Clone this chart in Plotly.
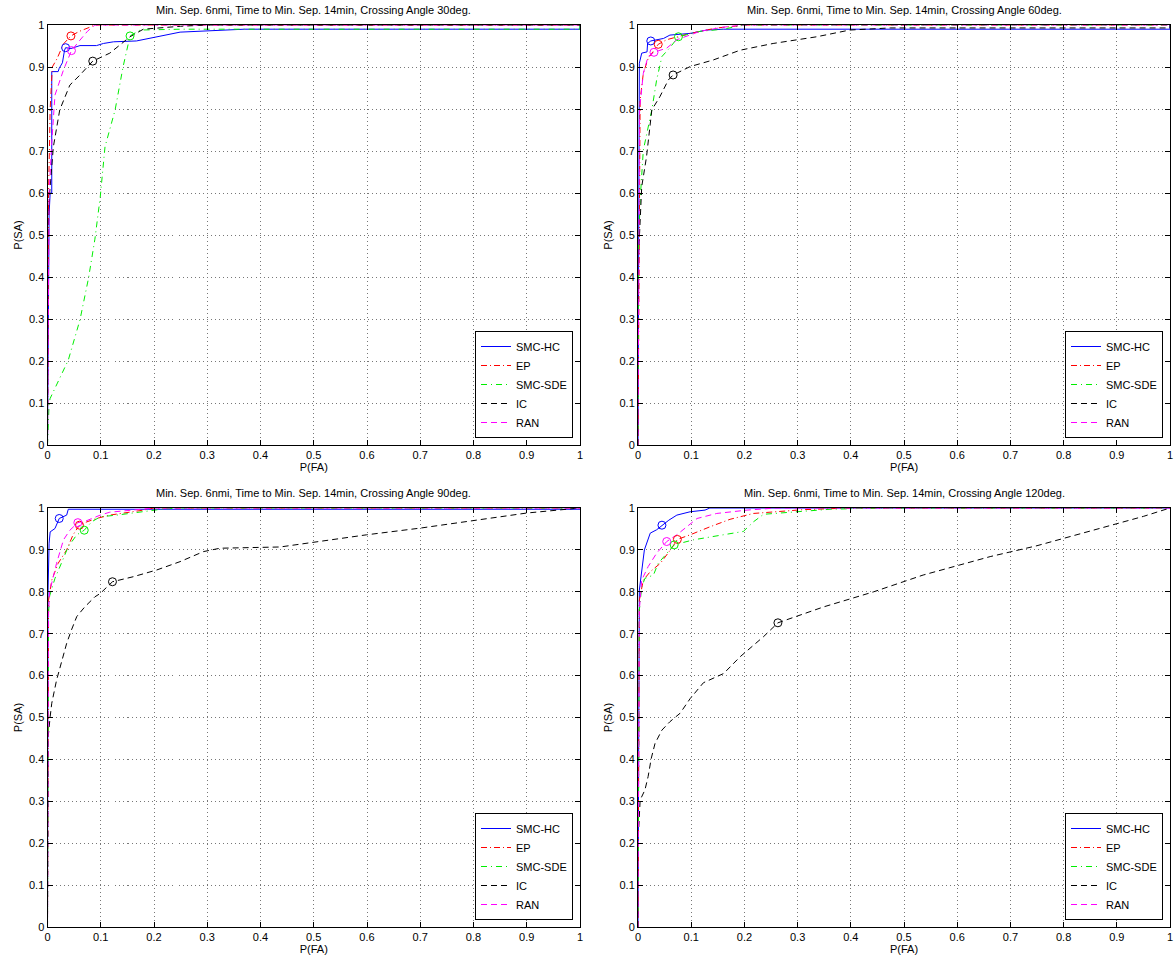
import plotly.graph_objects as go

# ---------------- data ----------------
SERIES = ["SMC-HC", "EP", "SMC-SDE", "IC", "RAN"]
TITLES = [
    "Min. Sep. 6nmi, Time to Min. Sep. 14min, Crossing Angle 30deg.",
    "Min. Sep. 6nmi, Time to Min. Sep. 14min, Crossing Angle 60deg.",
    "Min. Sep. 6nmi, Time to Min. Sep. 14min, Crossing Angle 90deg.",
    "Min. Sep. 6nmi, Time to Min. Sep. 14min, Crossing Angle 120deg.",
]
TICKS = [0, 0.1, 0.2, 0.3, 0.4, 0.5, 0.6, 0.7, 0.8, 0.9, 1]
TICK_LABELS = ["0", "0.1", "0.2", "0.3", "0.4", "0.5", "0.6", "0.7", "0.8", "0.9", "1"]

# --- 30 deg ---
A30_HC_FA = [0, 0.003, 0.005, 0.008, 0.008, 0.02, 0.022, 0.028, 0.032, 0.034, 0.044, 0.061, 0.092, 0.105, 0.124, 0.167, 0.249, 0.37, 1.0, 1.0]
A30_HC_SA = [0, 0.55, 0.6, 0.6, 0.889, 0.889, 0.897, 0.91, 0.94, 0.946, 0.944, 0.951, 0.951, 0.956, 0.960, 0.962, 0.983, 0.99, 0.99, 1.0]
A30_EP_FA = [0, 0.002, 0.005, 0.009, 0.018, 0.027, 0.03, 0.044, 0.06, 0.08, 0.088, 1.0]
A30_EP_SA = [0, 0.6, 0.8, 0.9, 0.92, 0.944, 0.955, 0.974, 0.985, 0.995, 1.0, 1.0]
A30_SDE_FA = [0, 0.003, 0.005, 0.039, 0.061, 0.077, 0.089, 0.099, 0.108, 0.127, 0.142, 0.155, 0.174, 0.25, 1.0, 1.0]
A30_SDE_SA = [0, 0.1, 0.111, 0.202, 0.298, 0.397, 0.49, 0.59, 0.71, 0.798, 0.901, 0.974, 0.988, 0.99, 0.99, 1.0]
A30_IC_FA = [0, 0.001, 0.004, 0.011, 0.023, 0.042, 0.061, 0.085, 0.117, 0.155, 0.18, 0.25, 0.3, 1.0]
A30_IC_SA = [0, 0.5, 0.6, 0.71, 0.798, 0.857, 0.881, 0.914, 0.933, 0.972, 0.99, 0.997, 1.0, 1.0]
A30_RAN_FA = [0, 0.003, 0.008, 0.014, 0.03, 0.045, 0.061, 0.075, 0.089, 1.0]
A30_RAN_SA = [0, 0.6, 0.72, 0.833, 0.893, 0.939, 0.964, 0.985, 1.0, 1.0]
A30_OP_FA = [0.034, 0.044, 0.155, 0.085, 0.045]
A30_OP_SA = [0.946, 0.974, 0.974, 0.914, 0.939]

# --- 60 deg ---
A60_HC_FA = [0, 0.001, 0.0025, 0.007, 0.017, 0.018, 0.024, 0.048, 0.06, 0.098, 0.129, 0.16, 1.0, 1.0]
A60_HC_SA = [0, 0.5, 0.909, 0.933, 0.936, 0.956, 0.962, 0.968, 0.976, 0.980, 0.988, 0.99, 0.99, 1.0]
A60_EP_FA = [0, 0.002, 0.004, 0.010, 0.019, 0.038, 0.054, 0.098, 0.148, 0.205, 1.0]
A60_EP_SA = [0, 0.6, 0.821, 0.885, 0.92, 0.954, 0.965, 0.98, 0.993, 1.0, 1.0]
A60_SDE_FA = [0, 0.001, 0.004, 0.01, 0.026, 0.035, 0.045, 0.06, 0.076, 0.117, 0.16, 0.2, 1.0]
A60_SDE_SA = [0, 0.47, 0.583, 0.702, 0.798, 0.869, 0.925, 0.946, 0.972, 0.985, 0.99, 1.0, 1.0]
A60_IC_FA = [0, 0.001, 0.007, 0.016, 0.026, 0.041, 0.057, 0.066, 0.098, 0.142, 0.192, 0.254, 0.336, 0.398, 0.474, 1.0, 1.0]
A60_IC_SA = [0, 0.45, 0.615, 0.686, 0.798, 0.829, 0.869, 0.881, 0.901, 0.917, 0.94, 0.956, 0.972, 0.988, 0.993, 0.993, 1.0]
A60_RAN_FA = [0, 0.002, 0.003, 0.01, 0.019, 0.03, 0.054, 0.073, 0.117, 0.161, 0.2, 1.0]
A60_RAN_SA = [0, 0.6, 0.8, 0.885, 0.925, 0.935, 0.945, 0.965, 0.985, 0.995, 1.0, 1.0]
A60_OP_FA = [0.024, 0.038, 0.076, 0.066, 0.03]
A60_OP_SA = [0.962, 0.954, 0.972, 0.881, 0.935]

# --- 90 deg ---
A90_HC_FA = [0, 0.001, 0.003, 0.005, 0.014, 0.017, 0.022, 0.036, 0.039, 1.0]
A90_HC_SA = [0, 0.8, 0.916, 0.943, 0.951, 0.960, 0.975, 0.983, 0.997, 0.997]
A90_EP_FA = [0, 0.002, 0.008, 0.02, 0.036, 0.048, 0.06, 0.074, 0.092, 0.117, 0.18, 0.2, 1.0]
A90_EP_SA = [0, 0.78, 0.828, 0.868, 0.9, 0.936, 0.959, 0.967, 0.975, 0.983, 0.995, 1.0, 1.0]
A90_SDE_FA = [0, 0.002, 0.004, 0.014, 0.026, 0.039, 0.055, 0.069, 0.083, 0.099, 0.13, 0.174, 0.22, 0.25, 1.0]
A90_SDE_SA = [0, 0.75, 0.79, 0.832, 0.868, 0.908, 0.936, 0.947, 0.967, 0.979, 0.983, 0.99, 0.998, 1.0, 1.0]
A90_IC_FA = [0, 0.001, 0.005, 0.008, 0.017, 0.027, 0.036, 0.045, 0.055, 0.07, 0.089, 0.099, 0.122, 0.161, 0.205, 0.249, 0.293, 0.324, 0.437, 0.493, 0.599, 0.7, 0.8, 0.9, 1.0]
A90_IC_SA = [0, 0.45, 0.502, 0.534, 0.589, 0.637, 0.677, 0.709, 0.741, 0.764, 0.788, 0.796, 0.824, 0.836, 0.852, 0.872, 0.896, 0.904, 0.907, 0.917, 0.936, 0.952, 0.970, 0.988, 1.0]
A90_RAN_FA = [0, 0.002, 0.004, 0.017, 0.03, 0.042, 0.057, 0.074, 0.099, 0.117, 0.16, 0.2, 1.0]
A90_RAN_SA = [0, 0.75, 0.8, 0.868, 0.924, 0.947, 0.965, 0.97, 0.983, 0.99, 0.995, 1.0, 1.0]
A90_OP_FA = [0.022, 0.06, 0.069, 0.122, 0.057]
A90_OP_SA = [0.975, 0.959, 0.947, 0.824, 0.965]

# --- 120 deg ---
A120_HC_FA = [0, 0.001, 0.0025, 0.012, 0.023, 0.035, 0.045, 0.058, 0.073, 0.098, 0.126, 0.135, 1.0]
A120_HC_SA = [0, 0.7, 0.804, 0.9, 0.94, 0.948, 0.959, 0.971, 0.983, 0.991, 0.995, 1.0, 1.0]
A120_EP_FA = [0, 0.001, 0.0025, 0.01, 0.023, 0.042, 0.061, 0.074, 0.098, 0.135, 0.173, 0.217, 0.26, 0.31, 0.4, 1.0]
A120_EP_SA = [0, 0.6, 0.78, 0.828, 0.848, 0.868, 0.9, 0.925, 0.936, 0.955, 0.973, 0.987, 0.991, 0.996, 1.0, 1.0]
A120_SDE_FA = [0, 0.001, 0.0025, 0.007, 0.013, 0.029, 0.038, 0.068, 0.104, 0.16, 0.198, 0.217, 0.236, 0.267, 0.305, 0.361, 0.45, 1.0]
A120_SDE_SA = [0, 0.6, 0.756, 0.812, 0.832, 0.84, 0.868, 0.912, 0.924, 0.936, 0.944, 0.967, 0.985, 0.988, 0.991, 0.997, 1.0, 1.0]
A120_IC_FA = [0, 0.0, 0.004, 0.013, 0.019, 0.025, 0.032, 0.045, 0.06, 0.079, 0.098, 0.123, 0.161, 0.192, 0.236, 0.263, 0.349, 0.443, 0.536, 0.662, 0.75, 0.85, 0.95, 1.0]
A120_IC_SA = [0, 0.2, 0.303, 0.327, 0.359, 0.403, 0.438, 0.47, 0.49, 0.51, 0.545, 0.583, 0.605, 0.645, 0.693, 0.726, 0.764, 0.8, 0.84, 0.884, 0.91, 0.945, 0.98, 1.0]
A120_RAN_FA = [0, 0.001, 0.0025, 0.007, 0.019, 0.035, 0.054, 0.073, 0.092, 0.111, 0.148, 0.205, 0.26, 1.0]
A120_RAN_SA = [0, 0.6, 0.756, 0.828, 0.86, 0.892, 0.92, 0.936, 0.955, 0.975, 0.987, 0.995, 1.0, 1.0]
A120_OP_FA = [0.045, 0.074, 0.068, 0.263, 0.054]
A120_OP_SA = [0.959, 0.925, 0.912, 0.726, 0.92]

PANELS = [
    [(A30_HC_FA, A30_HC_SA), (A30_EP_FA, A30_EP_SA), (A30_SDE_FA, A30_SDE_SA), (A30_IC_FA, A30_IC_SA), (A30_RAN_FA, A30_RAN_SA), (A30_OP_FA, A30_OP_SA)],
    [(A60_HC_FA, A60_HC_SA), (A60_EP_FA, A60_EP_SA), (A60_SDE_FA, A60_SDE_SA), (A60_IC_FA, A60_IC_SA), (A60_RAN_FA, A60_RAN_SA), (A60_OP_FA, A60_OP_SA)],
    [(A90_HC_FA, A90_HC_SA), (A90_EP_FA, A90_EP_SA), (A90_SDE_FA, A90_SDE_SA), (A90_IC_FA, A90_IC_SA), (A90_RAN_FA, A90_RAN_SA), (A90_OP_FA, A90_OP_SA)],
    [(A120_HC_FA, A120_HC_SA), (A120_EP_FA, A120_EP_SA), (A120_SDE_FA, A120_SDE_SA), (A120_IC_FA, A120_IC_SA), (A120_RAN_FA, A120_RAN_SA), (A120_OP_FA, A120_OP_SA)],
]

# ---------------- styling ----------------
COLORS = ["#0000ff", "#ff0000", "#00ee00", "#000000", "#ff00ff"]
DASHES = ["solid", "6px,3px,1px,3px", "6px,4px,1px,4px", "6px,4px", "6px,4px"]
W, H = 1176, 962
FONT = "Liberation Sans, Arial, Helvetica, sans-serif"

# panel pixel boxes (left, right, top, bottom)
BOXES = [(47.5, 580, 25, 445), (638, 1170, 25, 445), (47.5, 580, 508, 927), (638, 1170, 508, 927)]

fig = go.Figure()

for p, (series, box) in enumerate(zip(PANELS, BOXES)):
    ax = "" if p == 0 else str(p + 1)
    xref, yref = "x" + ax, "y" + ax
    leg = "legend" + ax
    for s in range(5):
        fa, sa = series[s]
        fig.add_trace(go.Scatter(
            x=fa, y=sa, mode="lines", name=SERIES[s],
            line=dict(color=COLORS[s], width=1, dash=DASHES[s]),
            xaxis=xref, yaxis=yref, legend=leg, showlegend=True,
        ))
    op_fa, op_sa = series[5]
    for s in range(5):
        fig.add_trace(go.Scatter(
            x=[op_fa[s]], y=[op_sa[s]], mode="markers",
            marker=dict(symbol="circle-open", size=8, color=COLORS[s], line=dict(width=1, color=COLORS[s])),
            xaxis=xref, yaxis=yref, showlegend=False, hoverinfo="skip",
        ))

    l, r, t, b = box
    axis_common = dict(
        range=[0, 1], tickvals=TICKS, ticktext=TICK_LABELS, automargin=False,
        showline=True, linecolor="black", linewidth=1, mirror="ticks",
        ticks="inside", ticklen=5, tickcolor="black", tickwidth=1,
        showgrid=True, gridcolor="#777777", griddash="1px,3px", gridwidth=1,
        zeroline=False, tickfont=dict(family=FONT, size=11, color="black"),
        fixedrange=True,
    )
    fig.layout["xaxis" + ax] = dict(
        axis_common, domain=[l / W, r / W], anchor=yref,
        title=dict(text="P(FA)", font=dict(family=FONT, size=11, color="black"), standoff=2),
    )
    fig.layout["yaxis" + ax] = dict(
        axis_common, domain=[1 - b / H, 1 - t / H], anchor=xref,
        title=dict(text="P(SA)", font=dict(family=FONT, size=11, color="black"), standoff=4),
    )
    fig.layout[leg] = dict(
        x=(r - 7) / W, y=1 - (b - 7) / H, xanchor="right", yanchor="bottom",
        xref="paper", yref="paper",
        bgcolor="white", bordercolor="black", borderwidth=1,
        font=dict(family=FONT, size=11, color="black"),
        itemwidth=30, tracegroupgap=0,
    )
    fig.add_annotation(
        text=TITLES[p], x=(l + r) / 2 / W, y=1 - (t - 15) / H, xref="paper", yref="paper",
        xanchor="center", yanchor="middle", showarrow=False,
        font=dict(family=FONT, size=11, color="black"),
    )

fig.update_layout(
    template="none",
    width=W, height=H, margin=dict(l=0, r=0, t=0, b=0, autoexpand=False),
    paper_bgcolor="white", plot_bgcolor="white",
    font=dict(family=FONT, size=11, color="black"),
)

fig.write_html(
    "out.html",
    config={"displayModeBar": False},
    post_script="document.body.style.margin='0';document.body.style.padding='0';document.body.style.overflow='hidden';",
)
